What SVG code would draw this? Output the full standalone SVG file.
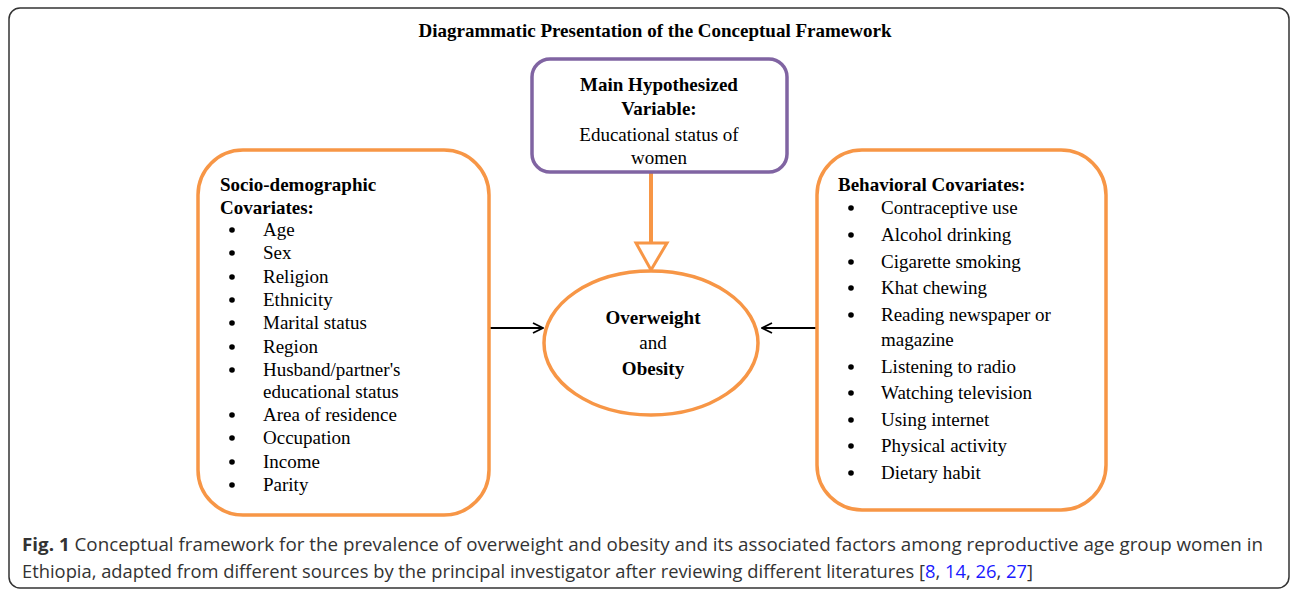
<svg xmlns="http://www.w3.org/2000/svg" width="1292" height="590" viewBox="0 0 1292 590">
<defs>
<style>
.s{font-family:"Liberation Serif","Times New Roman",serif;font-size:19px;fill:#000}
.b{font-weight:bold}
.c{font-family:"Open Sans","Liberation Sans",sans-serif;font-size:18px;fill:#333}
.ref{fill:#1a1aff}
.ob{fill:#fff;stroke:#F79646;stroke-width:3.5}
.dot{fill:#000}
</style>
<marker id="open" viewBox="0 0 12 12" refX="11" refY="6" markerWidth="12" markerHeight="12" markerUnits="userSpaceOnUse" orient="auto">
<path d="M1,1 L11,6 L1,11" fill="none" stroke="#000" stroke-width="1.8"/>
</marker>
</defs>
<rect width="1292" height="590" fill="#fff"/>
<rect id="frame" x="9" y="8" width="1280" height="580" rx="11" fill="none" stroke="#333" stroke-width="1.5"/>
<text class="s b" x="655" y="37" text-anchor="middle" font-size="17">Diagrammatic Presentation of the Conceptual Framework</text>

<g id="connectors">
<line x1="651" y1="172" x2="651" y2="243" stroke="#F79646" stroke-width="4"/>
<polygon points="636,243 667,243 651,270" fill="#fff" stroke="#F79646" stroke-width="3"/>
<line x1="489" y1="328" x2="543" y2="328" stroke="#000" stroke-width="1.8" marker-end="url(#open)"/>
<line x1="816" y1="328" x2="762" y2="328" stroke="#000" stroke-width="1.8" marker-end="url(#open)"/>
</g>

<g id="main">
<rect x="532" y="59" width="255" height="113" rx="18" fill="#fff" stroke="#8064A2" stroke-width="3.5"/>
<text class="s b" x="659" y="91" text-anchor="middle">Main Hypothesized</text>
<text class="s b" x="659" y="115" text-anchor="middle">Variable:</text>
<text class="s" x="659" y="141" text-anchor="middle">Educational status of</text>
<text class="s" x="659" y="164" text-anchor="middle">women</text>
</g>

<g id="outcome">
<ellipse cx="651" cy="343" rx="107" ry="72" class="ob"/>
<text class="s b" x="653" y="324" text-anchor="middle">Overweight</text>
<text class="s" x="653" y="349" text-anchor="middle">and</text>
<text class="s b" x="653" y="375" text-anchor="middle">Obesity</text>
</g>

<g id="socio">
<rect x="198" y="150" width="291" height="365" rx="45" class="ob"/>
<text class="s b" x="220" y="191">Socio-demographic</text>
<text class="s b" x="220" y="214">Covariates:</text>
<g class="dot">
<circle cx="232" cy="230" r="2.8"/><circle cx="232" cy="253" r="2.8"/><circle cx="232" cy="277" r="2.8"/><circle cx="232" cy="300" r="2.8"/><circle cx="232" cy="323" r="2.8"/><circle cx="232" cy="347" r="2.8"/><circle cx="232" cy="370" r="2.8"/><circle cx="232" cy="415" r="2.8"/><circle cx="232" cy="438" r="2.8"/><circle cx="232" cy="462" r="2.8"/><circle cx="232" cy="485" r="2.8"/>
</g>
<text class="s" x="263" y="236">Age</text>
<text class="s" x="263" y="259">Sex</text>
<text class="s" x="263" y="283">Religion</text>
<text class="s" x="263" y="306">Ethnicity</text>
<text class="s" x="263" y="329">Marital status</text>
<text class="s" x="263" y="353">Region</text>
<text class="s" x="263" y="376">Husband/partner's</text>
<text class="s" x="263" y="398">educational status</text>
<text class="s" x="263" y="421">Area of residence</text>
<text class="s" x="263" y="444">Occupation</text>
<text class="s" x="263" y="468">Income</text>
<text class="s" x="263" y="491">Parity</text>
</g>

<g id="behavioral">
<rect x="817" y="150" width="289" height="360" rx="45" class="ob"/>
<text class="s b" x="838" y="191">Behavioral Covariates:</text>
<g class="dot">
<circle cx="851" cy="208" r="2.8"/><circle cx="851" cy="235" r="2.8"/><circle cx="851" cy="262" r="2.8"/><circle cx="851" cy="288" r="2.8"/><circle cx="851" cy="315" r="2.8"/><circle cx="851" cy="367" r="2.8"/><circle cx="851" cy="393" r="2.8"/><circle cx="851" cy="420" r="2.8"/><circle cx="851" cy="446" r="2.8"/><circle cx="851" cy="473" r="2.8"/>
</g>
<text class="s" x="881" y="214">Contraceptive use</text>
<text class="s" x="881" y="241">Alcohol drinking</text>
<text class="s" x="881" y="268">Cigarette smoking</text>
<text class="s" x="881" y="294">Khat chewing</text>
<text class="s" x="881" y="321">Reading newspaper or</text>
<text class="s" x="881" y="346">magazine</text>
<text class="s" x="881" y="373">Listening to radio</text>
<text class="s" x="881" y="399">Watching television</text>
<text class="s" x="881" y="426">Using internet</text>
<text class="s" x="881" y="452">Physical activity</text>
<text class="s" x="881" y="479">Dietary habit</text>
</g>

<text class="c" x="22" y="551" textLength="1241" lengthAdjust="spacingAndGlyphs"><tspan font-weight="bold">Fig. 1</tspan> Conceptual framework for the prevalence of overweight and obesity and its associated factors among reproductive age group women in</text>
<text class="c" x="22" y="578" textLength="1011" lengthAdjust="spacingAndGlyphs">Ethiopia, adapted from different sources by the principal investigator after reviewing different literatures [<tspan class="ref">8</tspan>, <tspan class="ref">14</tspan>, <tspan class="ref">26</tspan>, <tspan class="ref">27</tspan>]</text>
</svg>
